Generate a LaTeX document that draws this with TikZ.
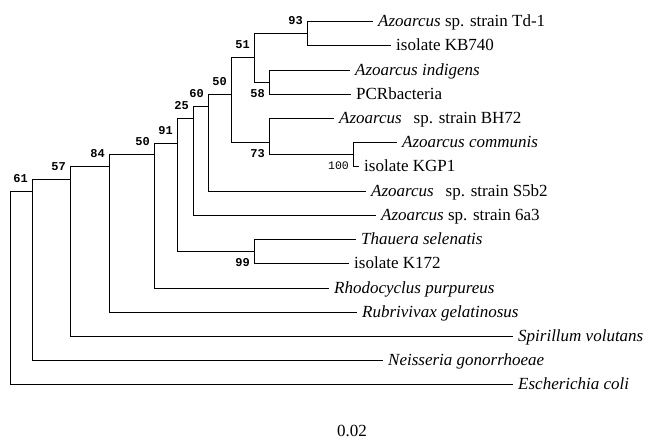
\documentclass[tikz,border=0pt]{standalone}
\usepackage{fontspec}
\setmainfont{Liberation Serif}
\setmonofont{Liberation Mono}
\usetikzlibrary{calc}

\begin{document}
\begin{tikzpicture}[
    x=1pt, y=-1pt,
    every node/.style={font=\fontsize{17}{19}\selectfont},
    branch/.style={line width=0.9pt},
    leaf/.style={anchor=west, inner xsep=5pt, inner ysep=0pt, text height=11pt, text depth=1pt},
    bnum/.style={anchor=east, inner sep=0pt, xshift=-4pt, font=\fontsize{12}{12}\selectfont\ttfamily\bfseries},
    bup/.style={bnum, yshift=12pt},
    bdown/.style={bnum, yshift=-12pt},
]
    \useasboundingbox (0,0) rectangle (648,439);

    % Inner nodes of the tree
    \coordinate (root) at (10,191);
    \coordinate (n61) at (32,191);
    \coordinate (n57) at (70,179);
    \coordinate (n84) at (109,166);
    \coordinate (n50a) at (154,154);
    \coordinate (n91) at (177,143);
    \coordinate (n25) at (193,118);
    \coordinate (n60) at (208,106);
    \coordinate (n50b) at (231,94);
    \coordinate (n51) at (254,57);
    \coordinate (n93) at (307,33);
    \coordinate (n58) at (269,82);
    \coordinate (n73) at (269,142);
    \coordinate (n100) at (353,154);
    \coordinate (n99) at (254,251);

    % Leaves
    \node[leaf] (td1) at (373,21) {\textit{Azoarcus} sp. strain Td-1};
    \node[leaf] (kb740) at (391,45) {isolate KB740};
    \node[leaf] (indigens) at (350,70) {\textit{Azoarcus indigens}};
    \node[leaf] (pcr) at (351,94) {PCRbacteria};
    \node[leaf] (bh72) at (334,118) {\textit{Azoarcus}\hspace{0.45em} sp. strain BH72};
    \node[leaf] (communis) at (397,142) {\textit{Azoarcus communis}};
    \node[leaf] (kgp1) at (359,166) {isolate KGP1};
    \node[leaf] (s5b2) at (366,191) {\textit{Azoarcus}\hspace{0.45em} sp. strain S5b2};
    \node[leaf] (sixa3) at (376,215) {\textit{Azoarcus} sp. strain 6a3};
    \node[leaf] (thauera) at (356,239) {\textit{Thauera selenatis}};
    \node[leaf] (k172) at (349,263) {isolate K172};
    \node[leaf] (rhodo) at (329,288) {\textit{Rhodocyclus purpureus}};
    \node[leaf] (rubri) at (357,312) {\textit{Rubrivivax gelatinosus}};
    \node[leaf] (spiri) at (513,336) {\textit{Spirillum volutans}};
    \node[leaf] (neiss) at (383,360) {\textit{Neisseria gonorrhoeae}};
    \node[leaf] (ecoli) at (513,384) {\textit{Escherichia coli}};

    % Branches
    \draw[branch] (root) |- (n61);
    \draw[branch] (root) |- (ecoli.west);
    \draw[branch] (n61) |- (n57);
    \draw[branch] (n61) |- (neiss.west);
    \draw[branch] (n57) |- (n84);
    \draw[branch] (n57) |- (spiri.west);
    \draw[branch] (n84) |- (n50a);
    \draw[branch] (n84) |- (rubri.west);
    \draw[branch] (n50a) |- (n91);
    \draw[branch] (n50a) |- (rhodo.west);
    \draw[branch] (n91) |- (n25);
    \draw[branch] (n91) |- (n99);
    \draw[branch] (n99) |- (thauera.west);
    \draw[branch] (n99) |- (k172.west);
    \draw[branch] (n25) |- (n60);
    \draw[branch] (n25) |- (sixa3.west);
    \draw[branch] (n60) |- (n50b);
    \draw[branch] (n60) |- (s5b2.west);
    \draw[branch] (n50b) |- (n51);
    \draw[branch] (n50b) |- (n73);
    \draw[branch] (n51) |- (n93);
    \draw[branch] (n51) |- (n58);
    \draw[branch] (n93) |- (td1.west);
    \draw[branch] (n93) |- (kb740.west);
    \draw[branch] (n58) |- (indigens.west);
    \draw[branch] (n58) |- (pcr.west);
    \draw[branch] (n73) |- (bh72.west);
    \draw[branch] (n73) |- (n100);
    \draw[branch] (n100) |- (communis.west);
    \draw[branch] (n100) |- (kgp1.west);

    % Bootstrap values
    \node[bup] (b61) at (n61) {61};
    \node[bup] (b57) at (n57) {57};
    \node[bup] (b84) at (n84) {84};
    \node[bup] (b50a) at (n50a) {50};
    \node[bup] (b91) at (n91) {91};
    \node[bup] (b25) at (n25) {25};
    \node[bup] (b60) at (n60) {60};
    \node[bup] (b50b) at (n50b) {50};
    \node[bup] (b51) at (n51) {51};
    \node[bup] (b93) at (n93) {93};
    \node[bdown] (b58) at (n58) {58};
    \node[bdown] (b73) at (n73) {73};
    \node[bdown] (b99) at (n99) {99};
    \node[bdown, font=\fontsize{11.5}{12}\selectfont\ttfamily] (b100) at (n100) {100};

    % Scale
    \node (scale) at (352,431) {0.02};
\end{tikzpicture}
\end{document}
